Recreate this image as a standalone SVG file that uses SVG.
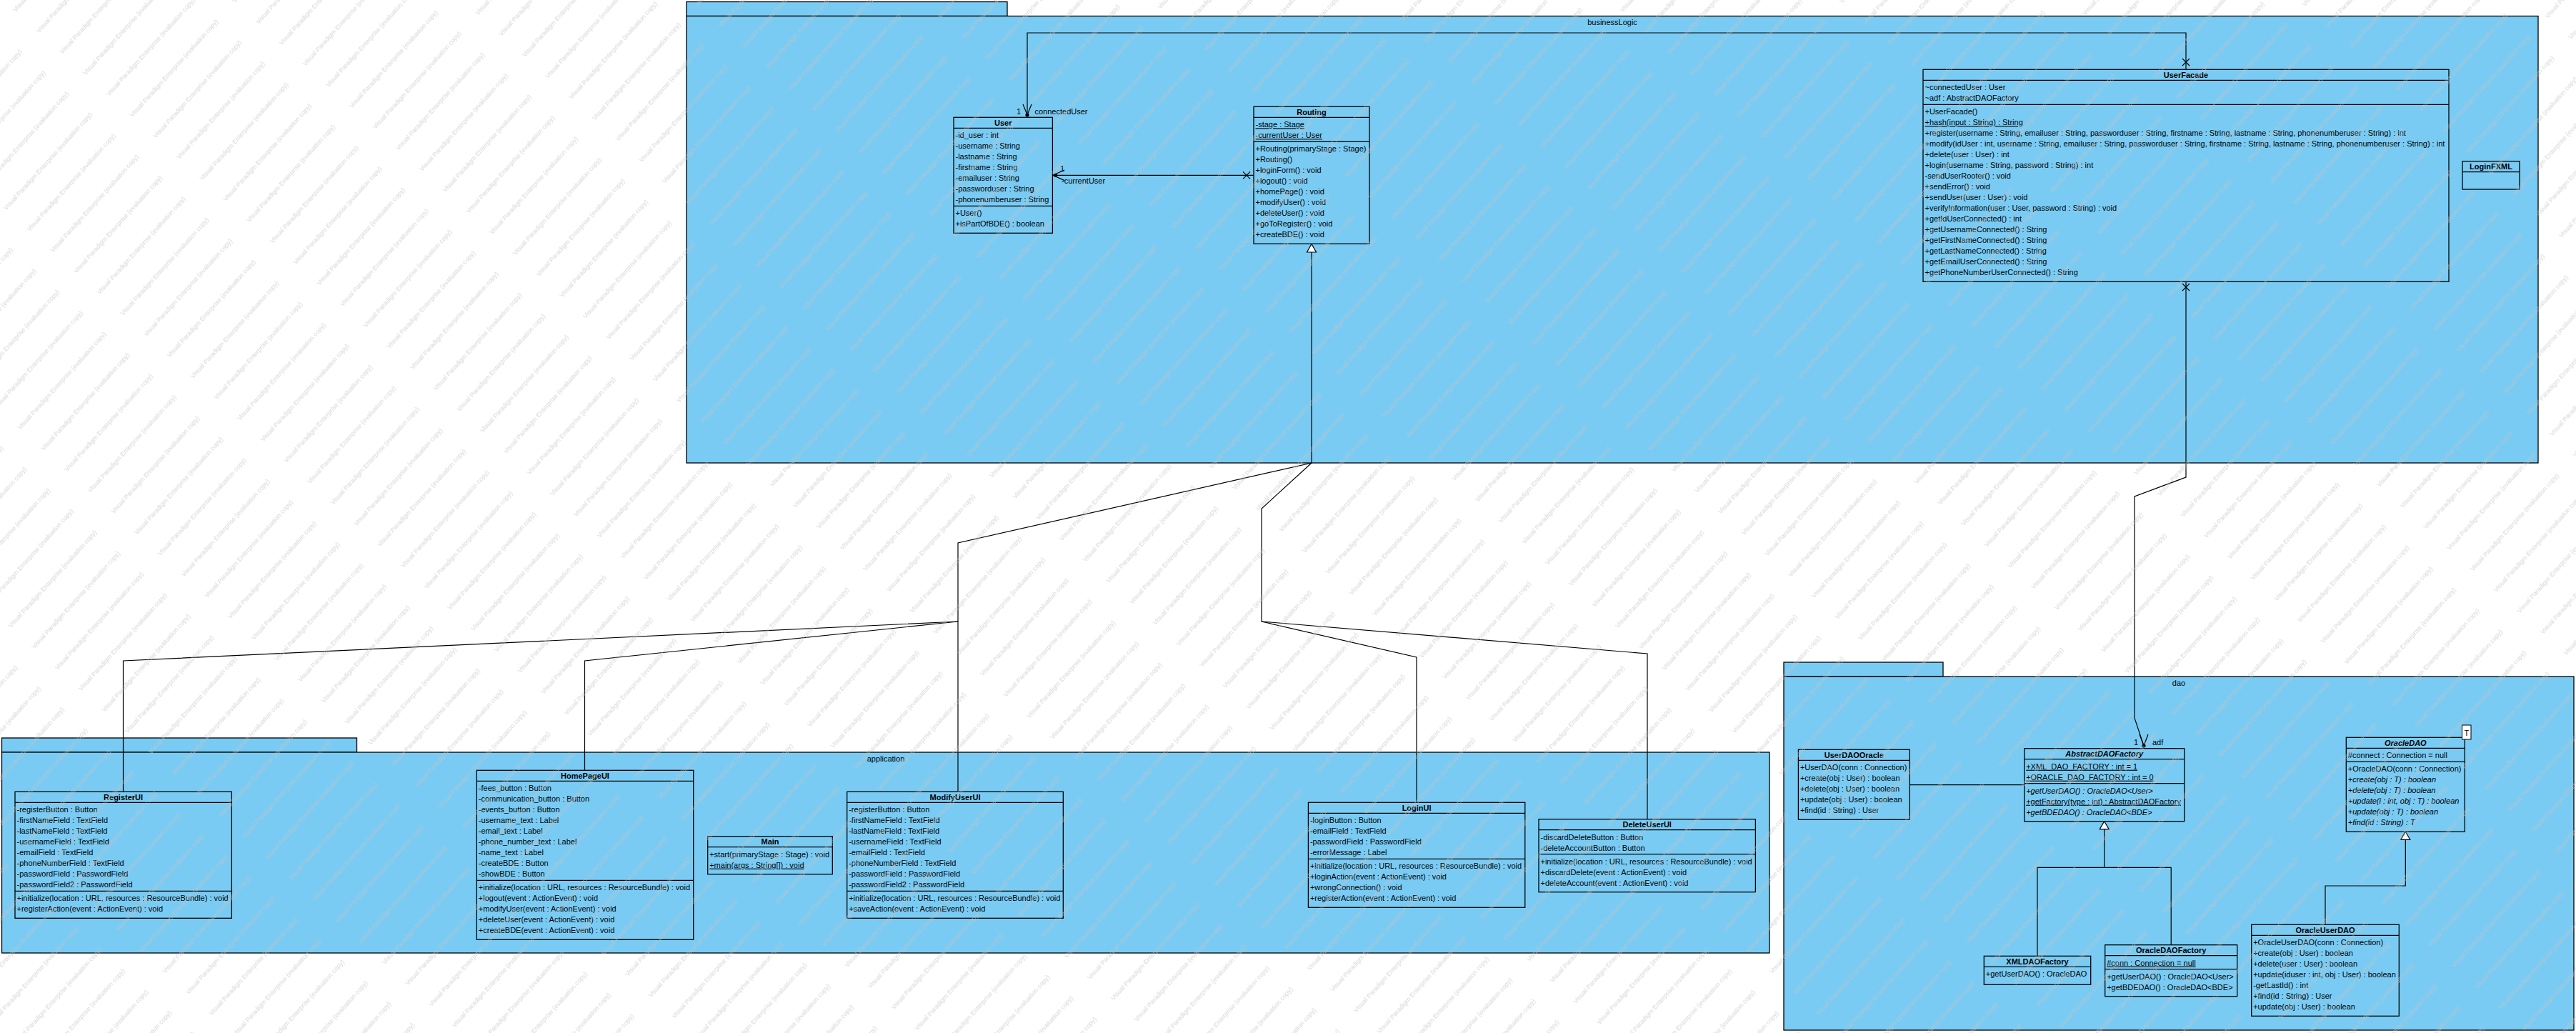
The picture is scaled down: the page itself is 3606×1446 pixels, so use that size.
<svg xmlns="http://www.w3.org/2000/svg" width="3606" height="1446" viewBox="0 0 3606 1446">
<defs>
<style>
.pk{fill:#7acbf3;stroke:#000;stroke-width:1.3}
.cb{fill:#7acbf3;stroke:#000;stroke-width:1.3}
.sl{stroke:#000;stroke-width:1.2;fill:none}
.cn{stroke:#000;stroke-width:1.2;fill:none}
.tri{fill:#fff;stroke:#000;stroke-width:1.2}
.dot{fill:#000}
text{font-family:"Liberation Sans",Arial,Helvetica,sans-serif;font-size:11px;fill:#000}
.h{font-weight:bold;text-anchor:middle}
.hi{font-weight:bold;font-style:italic;text-anchor:middle}
.i{font-style:italic}
.u{text-decoration:underline}
.pl{text-anchor:middle}
.w{font-size:9px;fill:#c4c4c4}
</style>
<pattern id="wm" patternUnits="userSpaceOnUse" width="215" height="44" patternTransform="rotate(-48)">
<text class="w" x="2" y="28">Visual Paradigm Enterprise (evaluation copy)</text>
</pattern>
</defs>
<rect x="0" y="0" width="3606" height="1446" fill="#fff"/>

<g id="pkg-businessLogic">
<rect class="pk" x="961" y="2.5" width="449" height="20"/>
<rect class="pk" x="961" y="22.5" width="2592" height="625.5"/>
<text class="pl" x="2257" y="35">businessLogic</text>
</g>
<g id="pkg-application">
<rect class="pk" x="2.5" y="1033" width="497" height="20"/>
<rect class="pk" x="2.5" y="1053" width="2474.5" height="281"/>
<text class="pl" x="1240" y="1066">application</text>
</g>
<g id="pkg-dao">
<rect class="pk" x="2497" y="927" width="223" height="20"/>
<rect class="pk" x="2497" y="947" width="1106" height="495"/>
<text class="pl" x="3050" y="960">dao</text>
</g>

<g id="connectors">
<!-- connectedUser association -->
<polyline class="cn" points="3060,97.3 3060,46 1438,46 1438,161"/>
<path class="cn" d="M3055,82 L3065,92 M3065,82 L3055,92"/>
<path class="cn" d="M1432,146 L1438,161 L1444,146"/>
<circle class="dot" cx="1438" cy="161" r="2.6"/>
<text x="1429" y="160" text-anchor="end">1</text>
<text x="1448.5" y="160">connectedUser</text>
<!-- currentUser association -->
<line class="cn" x1="1473.4" y1="245.3" x2="1755" y2="245.3"/>
<path class="cn" d="M1490,238 L1474,245.3 L1490,252.6"/>
<circle class="dot" cx="1477.5" cy="245.3" r="2.6"/>
<path class="cn" d="M1740,240.3 L1750,250.3 M1750,240.3 L1740,250.3"/>
<text x="1484" y="240">1</text>
<text x="1486" y="257">-currentUser</text>
<!-- generalizations to Routing -->
<polyline class="cn" points="1836,353 1836,648 1341,760 1341,1108.3"/>
<polyline class="cn" points="1836,648 1766,712 1766,870 1983,920 1983,1123.3"/>
<polyline class="cn" points="1766,870 2306,915 2306,1146.7"/>
<polyline class="cn" points="1341,870 818.5,925 818.5,1078.3"/>
<polyline class="cn" points="1341,870 172.5,925 172.5,1108.3"/>
<polygon class="tri" points="1836,341.5 1842.5,353 1829.5,353"/>
<!-- adf association -->
<polyline class="cn" points="3060,394.3 3060,668 2988,695 2988,1005 3001,1044"/>
<path class="cn" d="M3055,397 L3065,407 M3065,397 L3055,407"/>
<path class="cn" d="M2995,1028 L3001,1044 L3007,1028"/>
<circle class="dot" cx="3001" cy="1044" r="2.6"/>
<text x="2987" y="1043">1</text>
<text x="3013" y="1043">adf</text>
<!-- UserDAOOracle - AbstractDAOFactory -->
<line class="cn" x1="2673.3" y1="1098.7" x2="2833.7" y2="1098.7"/>
<!-- generalizations to AbstractDAOFactory -->
<polyline class="cn" points="2945.7,1160.7 2945.7,1214.3"/>
<polyline class="cn" points="2852,1338.3 2852,1214.3 3039.2,1214.3 3039.2,1322.7"/>
<polygon class="tri" points="2945.7,1149.7 2952.2,1160.7 2939.2,1160.7"/>
<!-- generalization to OracleDAO -->
<polyline class="cn" points="3367.3,1175.3 3367.3,1240 3255,1240 3255,1294.3"/>
<polygon class="tri" points="3367.3,1164.3 3373.8,1175.3 3360.8,1175.3"/>
</g>

<g id="User">
<rect class="cb" x="1335" y="164.3" width="138.4" height="162"/>
<line class="sl" x1="1335" y1="179.3" x2="1473.4" y2="179.3"/>
<line class="sl" x1="1335" y1="288.3" x2="1473.4" y2="288.3"/>
<text class="h" x="1404.2" y="175.8">User</text>
<text x="1337.5" y="193.3">-id_user : int</text>
<text x="1337.5" y="208.3">-username : String</text>
<text x="1337.5" y="223.3">-lastname : String</text>
<text x="1337.5" y="238.3">-firstname : String</text>
<text x="1337.5" y="253.3">-emailuser : String</text>
<text x="1337.5" y="268.3">-passworduser : String</text>
<text x="1337.5" y="283.3">-phonenumberuser : String</text>
<text x="1337.5" y="302.3">+User()</text>
<text x="1337.5" y="317.3">+isPartOfBDE() : boolean</text>
</g>

<g id="Routing">
<rect class="cb" x="1755" y="149.3" width="162" height="192"/>
<line class="sl" x1="1755" y1="164.3" x2="1917" y2="164.3"/>
<line class="sl" x1="1755" y1="198.3" x2="1917" y2="198.3"/>
<text class="h" x="1836" y="160.8">Routing</text>
<text class="u" x="1757.5" y="178.3">-stage : Stage</text>
<text class="u" x="1757.5" y="193.3">-currentUser : User</text>
<text x="1757.5" y="212.3">+Routing(primaryStage : Stage)</text>
<text x="1757.5" y="227.3">+Routing()</text>
<text x="1757.5" y="242.3">+loginForm() : void</text>
<text x="1757.5" y="257.3">+logout() : void</text>
<text x="1757.5" y="272.3">+homePage() : void</text>
<text x="1757.5" y="287.3">+modifyUser() : void</text>
<text x="1757.5" y="302.3">+deleteUser() : void</text>
<text x="1757.5" y="317.3">+goToRegister() : void</text>
<text x="1757.5" y="332.3">+createBDE() : void</text>
</g>

<g id="UserFacade">
<rect class="cb" x="2692" y="97.3" width="736" height="297"/>
<line class="sl" x1="2692" y1="112.3" x2="3428" y2="112.3"/>
<line class="sl" x1="2692" y1="146.3" x2="3428" y2="146.3"/>
<text class="h" x="3060" y="108.8">UserFacade</text>
<text x="2694.5" y="126.3">~connectedUser : User</text>
<text x="2694.5" y="141.3">~adf : AbstractDAOFactory</text>
<text x="2694.5" y="160.3">+UserFacade()</text>
<text class="u" x="2694.5" y="175.3">+hash(input : String) : String</text>
<text x="2694.5" y="190.3">+register(username : String, emailuser : String, passworduser : String, firstname : String, lastname : String, phonenumberuser : String) : int</text>
<text x="2694.5" y="205.3">+modify(idUser : int, username : String, emailuser : String, passworduser : String, firstname : String, lastname : String, phonenumberuser : String) : int</text>
<text x="2694.5" y="220.3">+delete(user : User) : int</text>
<text x="2694.5" y="235.3">+login(username : String, password : String) : int</text>
<text x="2694.5" y="250.3">-sendUserRooter() : void</text>
<text x="2694.5" y="265.3">+sendError() : void</text>
<text x="2694.5" y="280.3">+sendUser(user : User) : void</text>
<text x="2694.5" y="295.3">+verifyInformation(user : User, password : String) : void</text>
<text x="2694.5" y="310.3">+getIdUserConnected() : int</text>
<text x="2694.5" y="325.3">+getUsernameConnected() : String</text>
<text x="2694.5" y="340.3">+getFirstNameConnected() : String</text>
<text x="2694.5" y="355.3">+getLastNameConnected() : String</text>
<text x="2694.5" y="370.3">+getEmailUserConnected() : String</text>
<text x="2694.5" y="385.3">+getPhoneNumberUserConnected() : String</text>
</g>

<g id="LoginFXML">
<rect class="cb" x="3447" y="225.7" width="80" height="39.3"/>
<line class="sl" x1="3447" y1="240.7" x2="3527" y2="240.7"/>
<text class="h" x="3487" y="237.2">LoginFXML</text>
</g>

<g id="RegisterUI">
<rect class="cb" x="21" y="1108.3" width="303.3" height="177"/>
<line class="sl" x1="21" y1="1123.3" x2="324.3" y2="1123.3"/>
<line class="sl" x1="21" y1="1247.3" x2="324.3" y2="1247.3"/>
<text class="h" x="172.6" y="1119.8">RegisterUI</text>
<text x="23.5" y="1137.3">-registerButton : Button</text>
<text x="23.5" y="1152.3">-firstNameField : TextField</text>
<text x="23.5" y="1167.3">-lastNameField : TextField</text>
<text x="23.5" y="1182.3">-usernameField : TextField</text>
<text x="23.5" y="1197.3">-emailField : TextField</text>
<text x="23.5" y="1212.3">-phoneNumberField : TextField</text>
<text x="23.5" y="1227.3">-passwordField : PasswordField</text>
<text x="23.5" y="1242.3">-passwordField2 : PasswordField</text>
<text x="23.5" y="1261.3">+initialize(location : URL, resources : ResourceBundle) : void</text>
<text x="23.5" y="1276.3">+registerAction(event : ActionEvent) : void</text>
</g>

<g id="HomePageUI">
<rect class="cb" x="667.3" y="1078.3" width="303.4" height="237"/>
<line class="sl" x1="667.3" y1="1093.3" x2="970.7" y2="1093.3"/>
<line class="sl" x1="667.3" y1="1232.3" x2="970.7" y2="1232.3"/>
<text class="h" x="819" y="1089.8">HomePageUI</text>
<text x="669.8" y="1107.3">-fees_button : Button</text>
<text x="669.8" y="1122.3">-communication_button : Button</text>
<text x="669.8" y="1137.3">-events_button : Button</text>
<text x="669.8" y="1152.3">-username_text : Label</text>
<text x="669.8" y="1167.3">-email_text : Label</text>
<text x="669.8" y="1182.3">-phone_number_text : Label</text>
<text x="669.8" y="1197.3">-name_text : Label</text>
<text x="669.8" y="1212.3">-createBDE : Button</text>
<text x="669.8" y="1227.3">-showBDE : Button</text>
<text x="669.8" y="1246.3">+initialize(location : URL, resources : ResourceBundle) : void</text>
<text x="669.8" y="1261.3">+logout(event : ActionEvent) : void</text>
<text x="669.8" y="1276.3">+modifyUser(event : ActionEvent) : void</text>
<text x="669.8" y="1291.3">+deleteUser(event : ActionEvent) : void</text>
<text x="669.8" y="1306.3">+createBDE(event : ActionEvent) : void</text>
</g>

<g id="Main">
<rect class="cb" x="990.7" y="1170.7" width="174.6" height="53"/>
<line class="sl" x1="990.7" y1="1185.7" x2="1165.3" y2="1185.7"/>
<text class="h" x="1078" y="1182.2">Main</text>
<text x="993.2" y="1199.7">+start(primaryStage : Stage) : void</text>
<text class="u" x="993.2" y="1214.7">+main(args : String[]) : void</text>
</g>

<g id="ModifyUserUI">
<rect class="cb" x="1185.7" y="1108.3" width="302.6" height="177"/>
<line class="sl" x1="1185.7" y1="1123.3" x2="1488.3" y2="1123.3"/>
<line class="sl" x1="1185.7" y1="1247.3" x2="1488.3" y2="1247.3"/>
<text class="h" x="1337" y="1119.8">ModifyUserUI</text>
<text x="1188.2" y="1137.3">-registerButton : Button</text>
<text x="1188.2" y="1152.3">-firstNameField : TextField</text>
<text x="1188.2" y="1167.3">-lastNameField : TextField</text>
<text x="1188.2" y="1182.3">-usernameField : TextField</text>
<text x="1188.2" y="1197.3">-emailField : TextField</text>
<text x="1188.2" y="1212.3">-phoneNumberField : TextField</text>
<text x="1188.2" y="1227.3">-passwordField : PasswordField</text>
<text x="1188.2" y="1242.3">-passwordField2 : PasswordField</text>
<text x="1188.2" y="1261.3">+initialize(location : URL, resources : ResourceBundle) : void</text>
<text x="1188.2" y="1276.3">+saveAction(event : ActionEvent) : void</text>
</g>

<g id="LoginUI">
<rect class="cb" x="1831.4" y="1123.3" width="303.4" height="147"/>
<line class="sl" x1="1831.4" y1="1138.3" x2="2134.8" y2="1138.3"/>
<line class="sl" x1="1831.4" y1="1202.3" x2="2134.8" y2="1202.3"/>
<text class="h" x="1983.1" y="1134.8">LoginUI</text>
<text x="1833.9" y="1152.3">-loginButton : Button</text>
<text x="1833.9" y="1167.3">-emailField : TextField</text>
<text x="1833.9" y="1182.3">-passwordField : PasswordField</text>
<text x="1833.9" y="1197.3">-errorMessage : Label</text>
<text x="1833.9" y="1216.3">+initialize(location : URL, resources : ResourceBundle) : void</text>
<text x="1833.9" y="1231.3">+loginAction(event : ActionEvent) : void</text>
<text x="1833.9" y="1246.3">+wrongConnection() : void</text>
<text x="1833.9" y="1261.3">+registerAction(event : ActionEvent) : void</text>
</g>

<g id="DeleteUserUI">
<rect class="cb" x="2154" y="1146.7" width="303.4" height="102"/>
<line class="sl" x1="2154" y1="1161.7" x2="2457.4" y2="1161.7"/>
<line class="sl" x1="2154" y1="1195.7" x2="2457.4" y2="1195.7"/>
<text class="h" x="2305.7" y="1158.2">DeleteUserUI</text>
<text x="2156.5" y="1175.7">-discardDeleteButton : Button</text>
<text x="2156.5" y="1190.7">-deleteAccountButton : Button</text>
<text x="2156.5" y="1209.7">+initialize(location : URL, resources : ResourceBundle) : void</text>
<text x="2156.5" y="1224.7">+discardDelete(event : ActionEvent) : void</text>
<text x="2156.5" y="1239.7">+deleteAccount(event : ActionEvent) : void</text>
</g>

<g id="UserDAOOracle">
<rect class="cb" x="2517.4" y="1049.3" width="155.9" height="98"/>
<line class="sl" x1="2517.4" y1="1064.3" x2="2673.3" y2="1064.3"/>
<text class="h" x="2595.4" y="1060.8">UserDAOOracle</text>
<text x="2519.9" y="1078.3">+UserDAO(conn : Connection)</text>
<text x="2519.9" y="1093.3">+create(obj : User) : boolean</text>
<text x="2519.9" y="1108.3">+delete(obj : User) : boolean</text>
<text x="2519.9" y="1123.3">+update(obj : User) : boolean</text>
<text x="2519.9" y="1138.3">+find(id : String) : User</text>
</g>

<g id="AbstractDAOFactory">
<rect class="cb" x="2833.7" y="1047.7" width="224" height="102"/>
<line class="sl" x1="2833.7" y1="1062.7" x2="3057.7" y2="1062.7"/>
<line class="sl" x1="2833.7" y1="1096.7" x2="3057.7" y2="1096.7"/>
<text class="hi" x="2945.7" y="1059.2">AbstractDAOFactory</text>
<text class="u" x="2836.2" y="1076.7">+XML_DAO_FACTORY : int = 1</text>
<text class="u" x="2836.2" y="1091.7">+ORACLE_DAO_FACTORY : int = 0</text>
<text class="i" x="2836.2" y="1110.7">+getUserDAO() : OracleDAO&lt;User&gt;</text>
<text class="u" x="2836.2" y="1125.7">+getFactory(type : int) : AbstractDAOFactory</text>
<text class="i" x="2836.2" y="1140.7">+getBDEDAO() : OracleDAO&lt;BDE&gt;</text>
</g>

<g id="OracleDAO">
<rect class="cb" x="3284.3" y="1032.3" width="166" height="132"/>
<line class="sl" x1="3284.3" y1="1047.3" x2="3450.3" y2="1047.3"/>
<line class="sl" x1="3284.3" y1="1066.3" x2="3450.3" y2="1066.3"/>
<text class="hi" x="3367.3" y="1043.8">OracleDAO</text>
<text x="3286.8" y="1061.3">#connect : Connection = null</text>
<text x="3286.8" y="1080.3">+OracleDAO(conn : Connection)</text>
<text class="i" x="3286.8" y="1095.3">+create(obj : T) : boolean</text>
<text class="i" x="3286.8" y="1110.3">+delete(obj : T) : boolean</text>
<text class="i" x="3286.8" y="1125.3">+update(i : int, obj : T) : boolean</text>
<text class="i" x="3286.8" y="1140.3">+update(obj : T) : boolean</text>
<text class="i" x="3286.8" y="1155.3">+find(id : String) : T</text>
<rect x="3446.5" y="1015" width="12.5" height="20" fill="#fff" stroke="#000" stroke-width="1"/>
<text class="pl" x="3452.8" y="1029.5">T</text>
</g>

<g id="XMLDAOFactory">
<rect class="cb" x="2777.3" y="1338.3" width="149.4" height="40"/>
<line class="sl" x1="2777.3" y1="1353.3" x2="2926.7" y2="1353.3"/>
<text class="h" x="2852" y="1349.8">XMLDAOFactory</text>
<text x="2779.8" y="1367.3">+getUserDAO() : OracleDAO</text>
</g>

<g id="OracleDAOFactory">
<rect class="cb" x="2946.7" y="1322.7" width="185" height="72"/>
<line class="sl" x1="2946.7" y1="1337.7" x2="3131.7" y2="1337.7"/>
<line class="sl" x1="2946.7" y1="1356.7" x2="3131.7" y2="1356.7"/>
<text class="h" x="3039.2" y="1334.2">OracleDAOFactory</text>
<text class="u" x="2949.2" y="1351.7">#conn : Connection = null</text>
<text x="2949.2" y="1370.7">+getUserDAO() : OracleDAO&lt;User&gt;</text>
<text x="2949.2" y="1385.7">+getBDEDAO() : OracleDAO&lt;BDE&gt;</text>
</g>

<g id="OracleUserDAO">
<rect class="cb" x="3151.7" y="1294.3" width="206.6" height="128"/>
<line class="sl" x1="3151.7" y1="1309.3" x2="3358.3" y2="1309.3"/>
<text class="h" x="3255" y="1305.8">OracleUserDAO</text>
<text x="3154.2" y="1323.3">+OracleUserDAO(conn : Connection)</text>
<text x="3154.2" y="1338.3">+create(obj : User) : boolean</text>
<text x="3154.2" y="1353.3">+delete(user : User) : boolean</text>
<text x="3154.2" y="1368.3">+update(iduser : int, obj : User) : boolean</text>
<text x="3154.2" y="1383.3">-getLastId() : int</text>
<text x="3154.2" y="1398.3">+find(id : String) : User</text>
<text x="3154.2" y="1413.3">+update(obj : User) : boolean</text>
</g>

<rect id="watermark" x="0" y="0" width="3606" height="1446" fill="url(#wm)" opacity="0.7"/>
</svg>
